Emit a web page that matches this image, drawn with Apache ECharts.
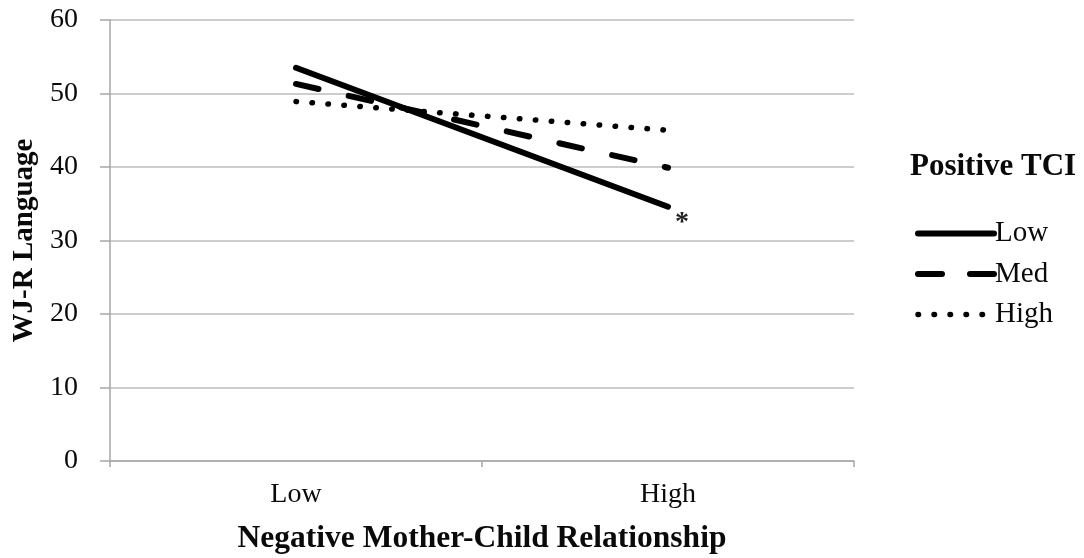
<!DOCTYPE html>
<html>
<head>
<meta charset="utf-8">
<script src="https://cdn.jsdelivr.net/npm/echarts@6/dist/echarts.min.js"></script>
<style>
html,body{margin:0;padding:0;background:#fff;}
#chart{width:1084px;height:558px;}
</style>
</head>
<body>
<div id="chart"></div>
<script>
const categories = ['Low', 'High'];
const lowTCI = [53.5, 34.6];
const medTCI = [51.3, 39.9];
const highTCI = [48.9, 45.0];
const seriesNames = ['Low', 'Med', 'High'];
const yTicks = {min: 0, max: 60, interval: 10};
const xTitle = 'Negative Mother-Child Relationship';
const yTitle = 'WJ-R Language';
const legendTitle = 'Positive TCI';
const sigMark = '*';

const FONT = '"Liberation Serif", "Times New Roman", serif';
const TXT = '#0a0a0a';
const hiddenSymbol = {color: 'rgba(0,0,0,0)', borderWidth: 0, opacity: 0};
const chart = echarts.init(document.getElementById('chart'));
chart.setOption({
  animation: false,
  backgroundColor: '#fff',
  textStyle: {fontFamily: FONT, color: TXT},
  title: {
    text: legendTitle,
    left: 905, top: 146,
    textStyle: {fontFamily: FONT, fontWeight: 'bold', fontSize: 31, color: TXT}
  },
  legend: {
    data: [
      {name: seriesNames[0], itemStyle: hiddenSymbol, lineStyle: {width: 6, type: 'solid', cap: 'round'}},
      {name: seriesNames[1], itemStyle: hiddenSymbol, lineStyle: {width: 6, type: [24, 28], cap: 'round'}},
      {name: seriesNames[2], itemStyle: hiddenSymbol, lineStyle: {width: 5.5, type: [0.5, 15.5], cap: 'round'}}
    ],
    orient: 'vertical',
    padding: 0,
    left: 915, top: 219,
    itemWidth: 76, itemHeight: 28, itemGap: 11.5,
    textStyle: {fontFamily: FONT, fontSize: 29, color: TXT, padding: [0,0,0,-4]}
  },
  grid: {left: 110, right: 230, top: 20, bottom: 97, containLabel: false, outerBoundsMode: 'none'},
  xAxis: {
    type: 'category',
    data: categories,
    boundaryGap: true,
    axisLine: {lineStyle: {color: '#a6a6a6', width: 1.5}},
    axisTick: {show: true, length: 6, lineStyle: {color: '#a6a6a6', width: 1.5}},
    axisLabel: {fontFamily: FONT, fontSize: 28, color: TXT, margin: 20},
    name: xTitle, nameLocation: 'middle', nameGap: 62,
    nameTextStyle: {fontFamily: FONT, fontWeight: 'bold', fontSize: 31.5, color: TXT}
  },
  yAxis: {
    type: 'value',
    min: yTicks.min, max: yTicks.max, interval: yTicks.interval,
    axisLine: {show: true, lineStyle: {color: '#a6a6a6', width: 1.5}},
    axisTick: {show: true, length: 10, lineStyle: {color: '#a6a6a6', width: 1.5}},
    splitLine: {lineStyle: {color: '#bdbdbd', width: 1.5}},
    axisLabel: {fontFamily: FONT, fontSize: 28, color: TXT, margin: 32},
    name: yTitle, nameLocation: 'middle', nameGap: 71, nameRotate: 90,
    nameTextStyle: {fontFamily: FONT, fontWeight: 'bold', fontSize: 29, color: TXT}
  },
  series: [
    {
      name: seriesNames[0], type: 'line', data: lowTCI, symbol: 'none',
      lineStyle: {color: '#000', width: 6, type: 'solid', cap: 'round'},
      itemStyle: {color: '#000'},
      markPoint: {
        symbol: 'circle', symbolSize: 0, silent: true,
        data: [{coord: [1, lowTCI[1]]}],
        label: {show: true, formatter: sigMark, fontFamily: FONT, fontSize: 28, fontWeight: 'bold', color: '#222', offset: [14, 16]}
      }
    },
    {
      name: seriesNames[1], type: 'line', data: medTCI, symbol: 'none',
      lineStyle: {color: '#000', width: 6, type: [23, 31], cap: 'round'},
      itemStyle: {color: '#000'}
    },
    {
      name: seriesNames[2], type: 'line', data: highTCI, symbol: 'none',
      lineStyle: {color: '#000', width: 5.5, type: [0.5, 15.5], cap: 'round'},
      itemStyle: {color: '#000'}
    }
  ]
});
</script>
</body>
</html>
